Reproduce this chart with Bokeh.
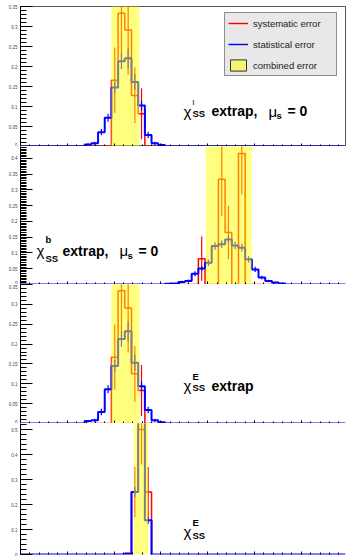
import numpy as np
from bokeh.plotting import figure
from bokeh.layouts import column
from bokeh.models import FixedTicker, Label, Legend, LegendItem, Range1d, CustomLabelingPolicy
from bokeh.embed import file_html
from bokeh.resources import INLINE

# ---------------- data ----------------
BIN_W = 1.0 / 7.0      # bin width in axis units
X_OFF = 0.1            # bin-centre offset (in bins)
X_MAX = 6.944

# panel 1 : chi^l_SS extrap, mu_s = 0
p1_blue_first = 10
p1_blue = [0.005, 0.008, 0.036, 0.072, 0.148, 0.214, 0.221, 0.162, 0.103, 0.029, 0.008, 0.004]
p1_blue_err = [0.003, 0.004, 0.008, 0.010, 0.015, 0.020, 0.025, 0.020, 0.012, 0.008, 0.004, 0.003]
p1_red_first = 10
p1_red = [0, 0, 0, 0, 0.166, 0.334, 0.292, 0.128, 0.082, 0, 0, 0, 0]
p1_red_err = [0, 0, 0, 0, 0.082, 0.120, 0.112, 0.070, 0.064, 0, 0, 0, 0]
p1_band = [1.94, 2.54]

# panel 2 : chi^b_SS extrap, mu_s = 0
p2_blue_first = 22
p2_blue = [0.002, 0.003, 0.008, 0.011, 0.034, 0.051, 0.069, 0.122, 0.128, 0.143,
           0.124, 0.117, 0.080, 0.048, 0.022, 0.011, 0.006, 0.003]
p2_blue_err = [0.002, 0.002, 0.004, 0.005, 0.008, 0.008, 0.010, 0.012, 0.012, 0.012,
               0.012, 0.012, 0.010, 0.008, 0.006, 0.004, 0.003, 0.002]
p2_red_first = 22
p2_red = [0, 0, 0, 0, 0, 0.082, 0, 0, 0.334, 0.165, 0, 0.416, 0, 0, 0, 0, 0, 0]
p2_red_err = [0, 0, 0, 0, 0, 0.070, 0, 0, 0.117, 0.085, 0, 0.130, 0, 0, 0, 0, 0, 0]
p2_band = [3.96, 4.94]

# panel 3 : chi^E_SS extrap
p3_blue_first = 10
p3_blue = [0.006, 0.008, 0.029, 0.086, 0.145, 0.213, 0.232, 0.153, 0.094, 0.034, 0.008, 0.003]
p3_blue_err = [0.003, 0.004, 0.008, 0.010, 0.015, 0.020, 0.025, 0.020, 0.012, 0.008, 0.004, 0.003]
p3_red_first = 10
p3_red = [0, 0, 0, 0, 0.167, 0.334, 0.291, 0.125, 0.083, 0, 0, 0, 0]
p3_red_err = [0, 0, 0, 0, 0.082, 0.120, 0.112, 0.070, 0.064, 0, 0, 0, 0]
p3_band = [1.94, 2.54]

# panel 4 : chi^E_SS
p4_blue_first = 16
p4_blue = [0.004, 0.250, 0.620, 0.137]
p4_blue_err = [0.002, 0.020, 0.030, 0.015]
p4_red_first = 16
p4_red = [0, 0.250, 0.500, 0.250]
p4_red_err = [0, 0.100, 0.140, 0.100]
p4_band = [2.42, 2.73]

legend_labels = ["systematic error", "statistical error", "combined error"]

BLUE = "#0000ff"
RED = "#ff0000"
YELLOW = "#ffff00"
FONT = "Liberation Sans"
LEFT = 20

NO_LABELS = CustomLabelingPolicy(code="""
for (const i of indices) { indices.unset(i) }
return indices
""")


def edges(first, n):
    left = (np.arange(n) + first - 0.5 + X_OFF) * BIN_W
    return left, left + BIN_W


def hist_path(first, vals, full=False):
    l, r = edges(first, len(vals))
    xs, ys = [], []
    if full:
        xs.append(0.0); ys.append(0.0)
    xs.append(l[0]); ys.append(0.0)
    for i, v in enumerate(vals):
        xs += [l[i], r[i]]
        ys += [v, v]
    xs.append(r[-1]); ys.append(0.0)
    if full:
        xs.append(X_MAX); ys.append(0.0)
    return xs, ys


def draw_hist(p, first, vals, errs, color, width, full):
    xs, ys = hist_path(first, vals, full)
    p.line(xs, ys, line_color=color, line_width=width)
    l, r = edges(first, len(vals))
    c = (l + r) / 2
    v = np.array(vals, dtype=float)
    e = np.array(errs, dtype=float)
    m = e > 0
    p.segment(x0=c[m], y0=v[m] - e[m], x1=c[m], y1=v[m] + e[m], line_color=color, line_width=1.2)


def make_fig(frame_h, y_end, major, minor, top_border, bottom_border):
    p = figure(frame_width=325, frame_height=frame_h,
               x_range=Range1d(0, X_MAX), y_range=Range1d(0, y_end),
               output_backend="svg", toolbar_location=None,
               min_border_left=LEFT, min_border_right=2,
               min_border_top=top_border, min_border_bottom=bottom_border)
    p.grid.visible = False
    p.outline_line_color = None
    p.background_fill_color = "white"
    p.border_fill_color = "white"
    # x axis: ticks only, pointing into the frame
    xa = p.xaxis[0]
    xa.ticker = FixedTicker(ticks=list(range(0, 7)),
                            minor_ticks=[round(0.2 * k, 2) for k in range(0, 35)])
    xa.major_label_text_font_size = "0px"
    xa.major_label_policy = NO_LABELS
    xa.major_label_standoff = 0
    xa.axis_line_color = None
    xa.major_tick_in = 3
    xa.major_tick_out = 0
    xa.minor_tick_in = 2
    xa.minor_tick_out = 0
    xa.major_tick_line_color = "black"
    xa.minor_tick_line_color = "black"
    # y axis
    ya = p.yaxis[0]
    ya.ticker = FixedTicker(ticks=major, minor_ticks=minor)
    ya.major_label_overrides = {t: f"{t:g}" for t in major}
    ya.major_label_text_font_size = "4.5px"
    ya.major_label_text_font = FONT
    ya.major_label_text_color = "#444444"
    ya.major_label_standoff = 3
    ya.major_tick_in = 12
    ya.major_tick_out = 0
    ya.minor_tick_in = 6
    ya.minor_tick_out = 0
    ya.axis_line_color = "black"
    ya.major_tick_line_color = "black"
    ya.minor_tick_line_color = "black"
    return p


def add_text(p, frame_bottom, x, base, text, size, bold=False):
    p.add_layout(Label(x=x - LEFT, y=frame_bottom - base, x_units="screen", y_units="screen",
                       text=text, text_font=FONT, text_font_size=f"{size}px",
                       text_font_style="bold" if bold else "normal",
                       text_color="black", text_baseline="alphabetic", text_align="left"))


def ticks(step, end):
    n = int(round(end / step))
    return [round(k * step, 4) for k in range(n + 1)]


# ---------------- panels ----------------
p1 = make_fig(140, 0.351, ticks(0.05, 0.35), ticks(0.01, 0.35), 6, 0)
p2 = make_fig(138, 0.438, ticks(0.05, 0.40), ticks(0.005, 0.435), 0, 0)
p3 = make_fig(139, 0.350, ticks(0.05, 0.35), ticks(0.01, 0.35), 0, 0)
p4 = make_fig(131, 0.524, ticks(0.1, 0.5), ticks(0.02, 0.52), 0, 2)

panels = [
    (p1, p1_blue_first, p1_blue, p1_blue_err, p1_red_first, p1_red, p1_red_err, p1_band),
    (p2, p2_blue_first, p2_blue, p2_blue_err, p2_red_first, p2_red, p2_red_err, p2_band),
    (p3, p3_blue_first, p3_blue, p3_blue_err, p3_red_first, p3_red, p3_red_err, p3_band),
    (p4, p4_blue_first, p4_blue, p4_blue_err, p4_red_first, p4_red, p4_red_err, p4_band),
]
for p, bf, bv, be, rf, rv, re_, band in panels:
    draw_hist(p, rf, rv, re_, RED, 1.5, False)
    draw_hist(p, bf, bv, be, BLUE, 2, True)
    p.quad(left=[band[0]], right=[band[1]], bottom=[0], top=[10],
           fill_color=YELLOW, fill_alpha=0.5, line_color=None)

# frame of the first panel
p1.outline_line_color = "#555555"
p1.outline_line_width = 1

# legend (first panel) - proxy renderers without visible data
nan = float("nan")
r_sys = p1.line(x=[nan], y=[nan], line_color=RED, line_width=1.4)
r_stat = p1.line(x=[nan], y=[nan], line_color=BLUE, line_width=1.4)
r_comb = p1.quad(left=[nan], right=[nan], bottom=[nan], top=[nan], fill_color=YELLOW, fill_alpha=0.5,
                 line_color="#333333", line_width=1)
leg = Legend(items=[LegendItem(label=legend_labels[0], renderers=[r_sys], index=0),
                    LegendItem(label=legend_labels[1], renderers=[r_stat], index=0),
                    LegendItem(label=legend_labels[2], renderers=[r_comb], index=0)],
             location=(204, 70), margin=0, padding=3, spacing=7,
             glyph_width=20, glyph_height=14, label_standoff=5, label_width=80, label_height=14,
             label_text_font=FONT, label_text_font_size="9.5px", label_text_color="#222222",
             border_line_color="#333333", border_line_width=1,
             background_fill_color="#e8e8e8", background_fill_alpha=1)
p1.add_layout(leg)

# panel titles
add_text(p1, 146, 183, 111, "χ", 15)
add_text(p1, 146, 192, 102, "l", 8)
add_text(p1, 146, 192, 113, "SS", 9.5, True)
add_text(p1, 146, 211, 110.7, "extrap,", 14, True)
add_text(p1, 146, 268, 110.7, "μ", 15)
add_text(p1, 146, 276, 115, "s", 9.5, True)
add_text(p1, 146, 287, 110.7, "= 0", 14, True)

add_text(p2, 284, 36, 250, "χ", 15)
add_text(p2, 284, 45, 239, "b", 9.5, True)
add_text(p2, 284, 45, 258, "SS", 9.5, True)
add_text(p2, 284, 62, 250, "extrap,", 14, True)
add_text(p2, 284, 119, 250, "μ", 15)
add_text(p2, 284, 127, 255, "s", 9.5, True)
add_text(p2, 284, 138, 250, "= 0", 14, True)

add_text(p3, 423, 183, 385, "χ", 15)
add_text(p3, 423, 192, 376, "E", 9.5, True)
add_text(p3, 423, 192, 387, "SS", 9.5, True)
add_text(p3, 423, 211, 385, "extrap", 14, True)

add_text(p4, 554, 183, 531, "χ", 15)
add_text(p4, 554, 192, 522, "E", 9.5, True)
add_text(p4, 554, 192, 535, "SS", 9.5, True)

layout = column(p1, p2, p3, p4, spacing=0)
open("out.html", "w").write(file_html(layout, INLINE))
